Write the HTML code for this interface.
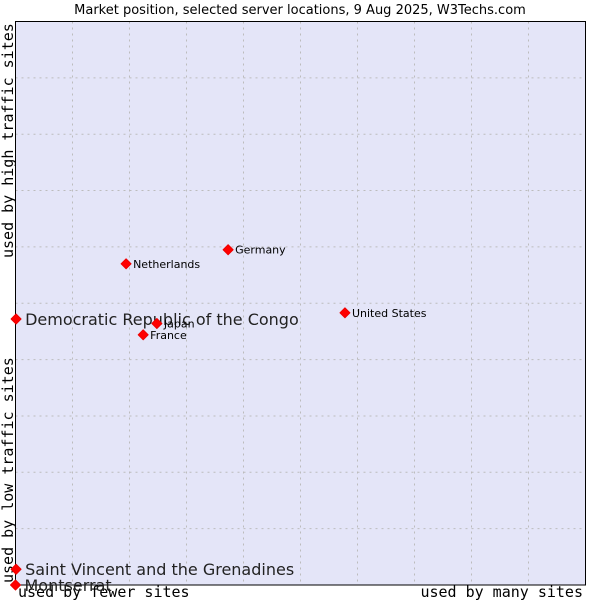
<!DOCTYPE html>
<html><head><meta charset="utf-8"><style>
body{margin:0;background:#fff}
svg{display:block;font-family:"DejaVu Sans","Liberation Sans",sans-serif}
</style></head><body>
<svg id="chart" width="600" height="600" viewBox="0 0 600 600">
<text x="300" y="14" text-anchor="middle" font-size="13" fill="#000">Market position, selected server locations, 9 Aug 2025, W3Techs.com</text>
<rect x="15.5" y="21.5" width="570" height="563.5" fill="#e4e5f8"/>
<g id="grid"></g>
<path d="M15.5 21.5 H585.5 V585 H15.5 Z" fill="none" stroke="#000" stroke-width="1"/>
<text transform="translate(13,258) rotate(-90)" font-family="DejaVu Sans Mono,Liberation Mono,monospace" font-size="15">used by high traffic sites</text>
<text transform="translate(13,583) rotate(-90)" font-family="DejaVu Sans Mono,Liberation Mono,monospace" font-size="15">used by low traffic sites</text>
<text x="18" y="597" font-family="DejaVu Sans Mono,Liberation Mono,monospace" font-size="15">used by fewer sites</text>
<text x="583" y="597" text-anchor="end" font-family="DejaVu Sans Mono,Liberation Mono,monospace" font-size="15">used by many sites</text>
<g id="points"></g>
</svg>
<script>
const names=["Democratic Republic of the Congo","Netherlands","Germany","United States","Japan","France","Saint Vincent and the Grenadines","Montserrat"];
const xVals=[0.1,19.4,37.3,57.8,24.8,22.4,0.1,0];
const yVals=[47.2,57.0,59.5,48.3,46.4,44.4,2.8,0];
const highlighted=[true,false,false,false,false,false,true,true];
const gridTicks=[1,2,3,4,5,6,7,8,9];
const NS="http://www.w3.org/2000/svg";
const L=15.5,R=585.5,T=21.5,B=585;
const sx=v=>L+v/100*(R-L), sy=v=>B-v/100*(B-T);
const grid=document.getElementById('grid');
gridTicks.forEach(t=>{
  const vx=document.createElementNS(NS,'line');
  vx.setAttribute('x1',sx(t*10));vx.setAttribute('x2',sx(t*10));vx.setAttribute('y1',T);vx.setAttribute('y2',B);
  vx.setAttribute('stroke','#bcbcbc');vx.setAttribute('stroke-dasharray','2,4');
  
  
  grid.appendChild(vx);
  const hy=document.createElementNS(NS,'line');
  hy.setAttribute('y1',sy(t*10));hy.setAttribute('y2',sy(t*10));hy.setAttribute('x1',L);hy.setAttribute('x2',R);
  hy.setAttribute('stroke','#bcbcbc');hy.setAttribute('stroke-dasharray','2,4');
  
  
  grid.appendChild(hy);
});
const pts=document.getElementById('points');
names.forEach((n,i)=>{
  const x=sx(xVals[i]),y=sy(yVals[i]);
  const m=document.createElementNS(NS,'path');
  m.setAttribute('d',`M${x} ${y-5} L${x+5} ${y} L${x} ${y+5} L${x-5} ${y} Z`);
  m.setAttribute('fill','#f00');
  m.setAttribute('stroke','#e00');
  m.setAttribute('stroke-linejoin','round');
  
  
  pts.appendChild(m);
  const tx=document.createElementNS(NS,'text');
  const big=highlighted[i];
  tx.setAttribute('x',x+(big?9:7));tx.setAttribute('y',y+(big?6:4));
  tx.setAttribute('font-size',big?16:11);
  tx.setAttribute('fill',big?'#222':'#000');
  tx.textContent=n;
  
  
  pts.appendChild(tx);
});
</script>
</body></html>
